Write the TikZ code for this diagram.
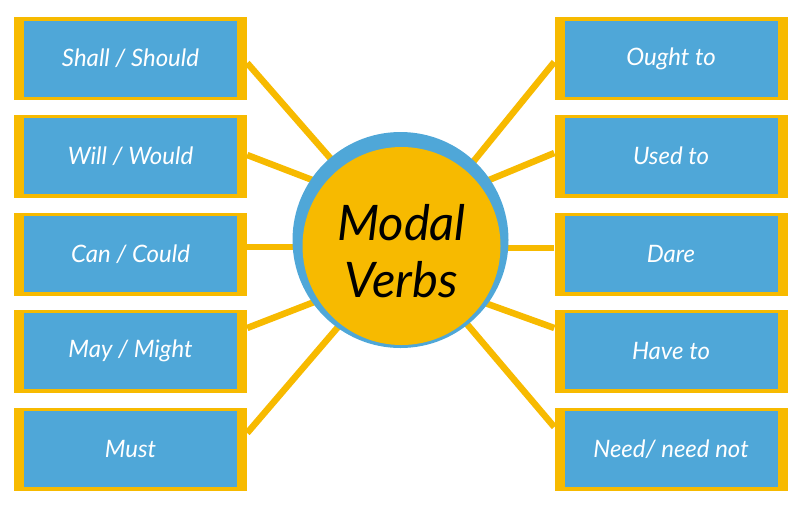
\documentclass[tikz,border=0pt]{standalone}
\usepackage{fontspec}
\setmainfont{Lato}
\begin{document}
\begin{tikzpicture}[x=1pt,y=-1pt,
  outerbox/.style={fill=myyellow,draw=none,minimum width=233pt,minimum height=83pt,inner sep=0pt},
  innerbox/.style={fill=myblue,draw=none,minimum width=213pt,minimum height=76pt,inner sep=0pt,text=white,font=\fontsize{24}{28}\selectfont\itshape},
  spoke/.style={draw=myyellow,line width=6.5pt},
  hubtext/.style={font=\fontsize{49}{57}\selectfont\itshape,align=center,text=black}]
\definecolor{myyellow}{RGB}{247,186,0}
\definecolor{myblue}{RGB}{79,167,216}
\useasboundingbox (0,0) rectangle (800,509);
% boxes
\foreach \n/\y/\t in {1/58.5/{Shall / Should},2/156/{Will / Would},3/254/{Can / Could},4/351/{May / Might},5/449/{Must}}{
  \node[outerbox] (L\n) at (130.5,\y) {};
  \node[innerbox] (Li\n) at (130.5,\y) {\t};
}
\foreach \n/\y/\t in {1/58.5/{Ought to},2/156/{Used to},3/254/{Dare},4/351/{Have to},5/449/{Need/ need not}}{
  \node[outerbox] (R\n) at (671,\y) {};
  \node[innerbox] (Ri\n) at (671,\y) {\t};
}
% hub anchor points
\coordinate (hl1) at (345,175);
\coordinate (hl2) at (340,190.6);
\coordinate (hl3) at (400,247);
\coordinate (hl4) at (340,292);
\coordinate (hl5) at (350,313);
\coordinate (hr1) at (460,178);
\coordinate (hr2) at (460,192);
\coordinate (hr3) at (400,248);
\coordinate (hr4) at (460,294);
\coordinate (hr5) at (455,310);
% spokes
\draw[spoke] (L1.east |- {(0,63)}) -- (hl1);
\draw[spoke] (L2.east |- {(0,155)}) -- (hl2);
\draw[spoke] (L3.east |- {(0,247)}) -- (hl3);
\draw[spoke] (L4.east |- {(0,328)}) -- (hl4);
\draw[spoke] (L5.east |- {(0,433)}) -- (hl5);
\draw[spoke] (R1.west |- {(0,62)}) -- (hr1);
\draw[spoke] (R2.west |- {(0,153)}) -- (hr2);
\draw[spoke] (R3.west |- {(0,248)}) -- (hr3);
\draw[spoke] (R4.west |- {(0,328)}) -- (hr4);
\draw[spoke] (R5.west |- {(0,427)}) -- (hr5);
% hub
\fill[myblue] (400.5,240) circle (108);
\fill[myyellow] (401.5,246) circle (99);
\node[hubtext] (hub) at (401.5,251) {Modal\\Verbs};
\end{tikzpicture}
\end{document}
